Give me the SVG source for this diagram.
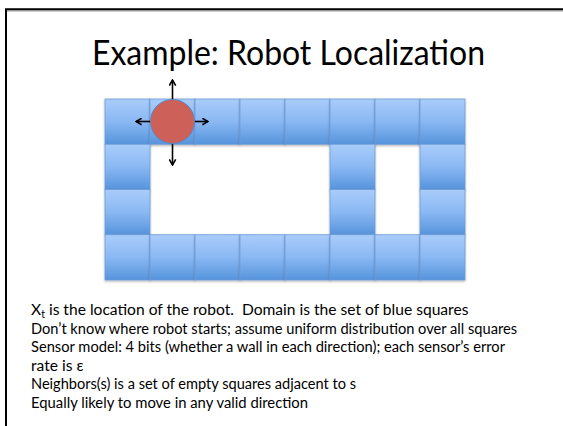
<svg xmlns="http://www.w3.org/2000/svg" width="563" height="426" viewBox="0 0 563 426">
  <style>
    .cell { fill: url(#blueGrad); stroke: #6f9bd6; stroke-width: 0.8; filter: url(#shadow); }
    .title { font-family: Lato, "Open Sans", "Liberation Sans", sans-serif; font-size: 34.4px; fill: #000; }
    .body { font-family: Lato, "Open Sans", "Liberation Sans", sans-serif; font-size: 15.6px; fill: #000; }
    .arrow { stroke: #000; stroke-width: 1.6; fill: none; marker-end: url(#head); }
  </style>
  <defs>
    <linearGradient id="blueGrad" x1="0" y1="0" x2="0" y2="1">
      <stop offset="0" stop-color="#a9cdfb"/>
      <stop offset="0.5" stop-color="#8ab8f3"/>
      <stop offset="1" stop-color="#5694dc"/>
    </linearGradient>
    <filter id="shadow" x="-10%" y="-10%" width="130%" height="130%">
      <feDropShadow dx="0" dy="1.2" stdDeviation="0.8" flood-color="#000" flood-opacity="0.3"/>
    </filter>
    <marker id="head" viewBox="0 0 10 10" refX="8.5" refY="5" markerWidth="8" markerHeight="8" markerUnits="userSpaceOnUse" orient="auto">
      <path d="M1.5,1 L8.5,5 L1.5,9" fill="none" stroke="#000" stroke-width="2"/>
    </marker>
  </defs>

  <rect width="563" height="426" fill="#fff"/>
  <line x1="6" y1="11" x2="563" y2="11" stroke="#999" stroke-width="1"/>
  <path d="M6,426 V9.2 H563" fill="none" stroke="#000" stroke-width="2"/>

  <text class="title" x="92" y="65" textLength="393" lengthAdjust="spacingAndGlyphs">Example: Robot Localization</text>

  <g id="grid">
    <g id="row0">
      <rect class="cell" x="105" y="99" width="45" height="45.25"/>
      <rect class="cell" x="150" y="99" width="45" height="45.25"/>
      <rect class="cell" x="195" y="99" width="45" height="45.25"/>
      <rect class="cell" x="240" y="99" width="45" height="45.25"/>
      <rect class="cell" x="285" y="99" width="45" height="45.25"/>
      <rect class="cell" x="330" y="99" width="45" height="45.25"/>
      <rect class="cell" x="375" y="99" width="45" height="45.25"/>
      <rect class="cell" x="420" y="99" width="45" height="45.25"/>
    </g>
    <g id="row1">
      <rect class="cell" x="105" y="144.25" width="45" height="45.25"/>
      <rect class="cell" x="330" y="144.25" width="45" height="45.25"/>
      <rect class="cell" x="420" y="144.25" width="45" height="45.25"/>
    </g>
    <g id="row2">
      <rect class="cell" x="105" y="189.5" width="45" height="45.25"/>
      <rect class="cell" x="330" y="189.5" width="45" height="45.25"/>
      <rect class="cell" x="420" y="189.5" width="45" height="45.25"/>
    </g>
    <g id="row3">
      <rect class="cell" x="105" y="234.75" width="45" height="45.25"/>
      <rect class="cell" x="150" y="234.75" width="45" height="45.25"/>
      <rect class="cell" x="195" y="234.75" width="45" height="45.25"/>
      <rect class="cell" x="240" y="234.75" width="45" height="45.25"/>
      <rect class="cell" x="285" y="234.75" width="45" height="45.25"/>
      <rect class="cell" x="330" y="234.75" width="45" height="45.25"/>
      <rect class="cell" x="375" y="234.75" width="45" height="45.25"/>
      <rect class="cell" x="420" y="234.75" width="45" height="45.25"/>
    </g>
  </g>

  <g id="connectors">
    <line class="arrow" x1="172.5" y1="99.5" x2="172.5" y2="80"/>
    <line class="arrow" x1="172.5" y1="143.5" x2="172.5" y2="165"/>
    <line class="arrow" x1="150.5" y1="121.5" x2="136" y2="121.5"/>
    <line class="arrow" x1="194.5" y1="121.5" x2="208" y2="121.5"/>
  </g>

  <g id="robot">
    <circle cx="172.5" cy="121.5" r="22" fill="#cd6159" stroke="#5b87c2" stroke-width="1"/>
  </g>

  <g id="description">
    <text class="body" x="31" y="315">X<tspan font-size="10.5px" dy="3">t</tspan><tspan dy="-3"> is the location of the robot.&#160; Domain is the set of blue squares</tspan></text>
    <text class="body" x="31" y="333.6" textLength="486" lengthAdjust="spacingAndGlyphs">Don’t know where robot starts; assume uniform distribution over all squares</text>
    <text class="body" x="31" y="352.2" textLength="474" lengthAdjust="spacingAndGlyphs">Sensor model: 4 bits (whether a wall in each direction); each sensor’s error</text>
    <text class="body" x="31" y="370.8">rate is ε</text>
    <text class="body" x="31" y="389.4" textLength="325" lengthAdjust="spacingAndGlyphs">Neighbors(s) is a set of empty squares adjacent to s</text>
    <text class="body" x="31" y="408" textLength="277" lengthAdjust="spacingAndGlyphs">Equally likely to move in any valid direction</text>
  </g>
</svg>
